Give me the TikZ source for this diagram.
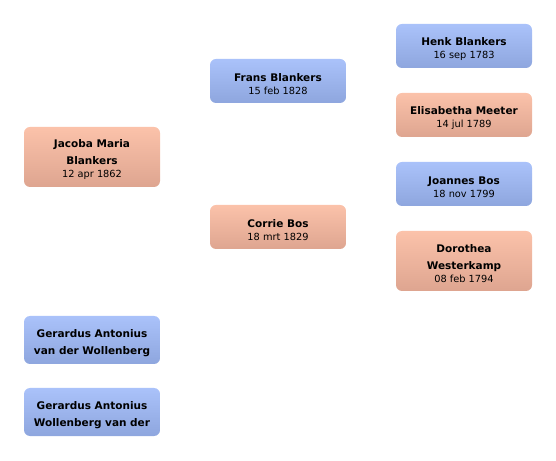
\documentclass[tikz,border=0pt]{standalone}
\usepackage{fontspec}
\setmainfont{DejaVu Sans}
\definecolor{bluetop}{HTML}{AAC2FA}
\definecolor{bluebot}{HTML}{8EA6DE}
\definecolor{salmtop}{HTML}{FBC2AA}
\definecolor{salmbot}{HTML}{DEA590}
\tikzset{
  person/.style={rounded corners=6pt, minimum width=136pt, inner sep=0pt, align=center, text=black, font=\fontsize{10.5}{17}\selectfont\bfseries},
  male/.style={person, top color=bluetop, bottom color=bluebot},
  female/.style={person, top color=salmtop, bottom color=salmbot},
}
\newcommand{\bdate}[1]{\\[-4pt]{\fontsize{9.8}{11}\selectfont\mdseries #1}}
\newcommand{\topstrut}{\rule{0pt}{13.5pt}}
\begin{document}
\begin{tikzpicture}[x=1pt,y=1pt]
\useasboundingbox (0,0) rectangle (556,460);
\node[female, minimum height=60pt] (jacoba) at (92,303) {\topstrut Jacoba Maria\\Blankers\bdate{12 apr 1862}};
\node[male, minimum height=44pt] (frans) at (278,379) {\topstrut Frans Blankers\bdate{15 feb 1828}};
\node[female, minimum height=44pt] (corrie) at (278,233) {\topstrut Corrie Bos\bdate{18 mrt 1829}};
\node[male, minimum height=44pt] (henk) at (464,414) {\topstrut Henk Blankers\bdate{16 sep 1783}};
\node[female, minimum height=44pt] (elis) at (464,345) {\topstrut Elisabetha Meeter\bdate{14 jul 1789}};
\node[male, minimum height=44pt] (joannes) at (464,276) {\topstrut Joannes Bos\bdate{18 nov 1799}};
\node[female, minimum height=60pt] (doro) at (464,199) {\topstrut Dorothea\\Westerkamp\bdate{08 feb 1794}};
\node[male, minimum height=48pt] (ger1) at (92,120) {\topstrut Gerardus Antonius\\van der Wollenberg};
\node[male, minimum height=48pt] (ger2) at (92,48) {\topstrut Gerardus Antonius\\Wollenberg van der};
\end{tikzpicture}
\end{document}
